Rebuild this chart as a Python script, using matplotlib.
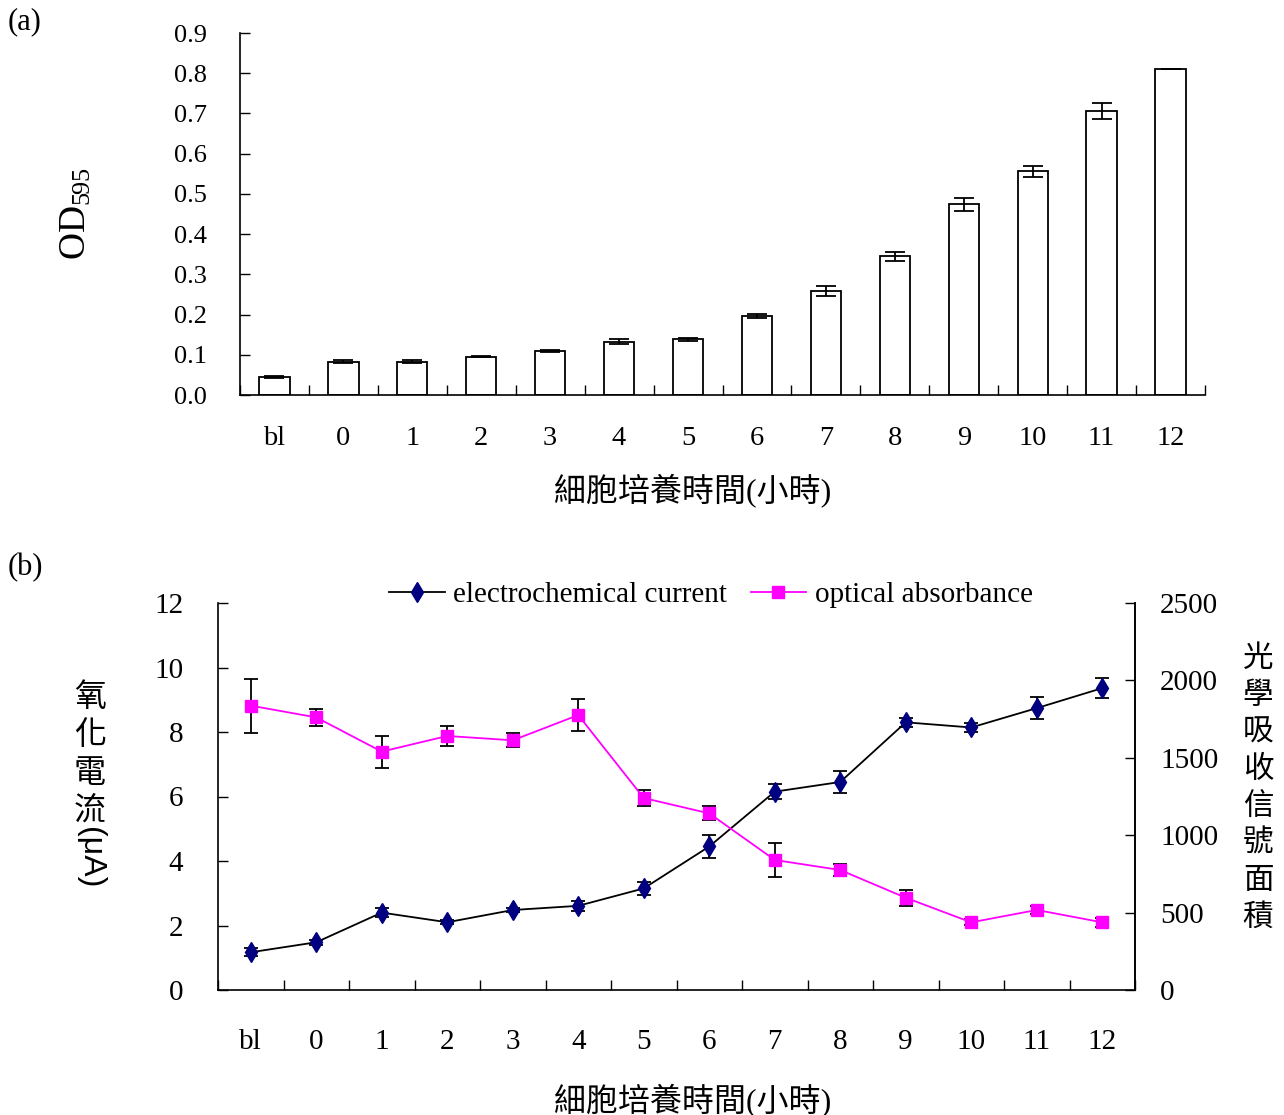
import numpy as np
import matplotlib.pyplot as plt
from matplotlib.lines import Line2D
from matplotlib.ticker import FormatStrFormatter

plt.rcParams['font.family'] = ['Liberation Serif', 'Noto Sans CJK TC']
plt.rcParams['mathtext.fontset'] = 'stix'

# data
cats = ['bl', '0', '1', '2', '3', '4', '5', '6', '7', '8', '9', '10', '11', '12']
od = [0.045, 0.083, 0.083, 0.095, 0.109, 0.133, 0.138, 0.196, 0.258, 0.345,
      0.474, 0.556, 0.706, 0.810]
od_err = [0.003, 0.003, 0.003, 0.001, 0.003, 0.005, 0.003, 0.005, 0.013, 0.011,
          0.017, 0.013, 0.019, 0.0]

cur = [1.17, 1.48, 2.40, 2.10, 2.48, 2.61, 3.15, 4.45, 6.15, 6.45,
       8.30, 8.14, 8.74, 9.36]
cur_err = [0.12, 0.07, 0.14, 0.06, 0.06, 0.15, 0.19, 0.37, 0.23, 0.35,
           0.13, 0.15, 0.35, 0.32]

absb = [1837, 1761, 1540, 1641, 1613, 1776, 1240, 1141, 840, 775,
        596, 437, 517, 437]
absb_err = [175, 54, 104, 65, 46, 105, 53, 46, 111, 41, 53, 20, 28, 30]

xlabel = '細胞培養時間(小時)'
W, H = 1284, 1115

fig = plt.figure(figsize=(W / 100, H / 100), dpi=100)
x = np.arange(len(cats))

# ---- panel (a)
ax1 = fig.add_axes([240 / W, 1 - 395 / H, 965 / W, 362 / H])
ax1.bar(x, od, width=0.44, color='white', edgecolor='black', linewidth=1.3,
        yerr=od_err, capsize=7,
        error_kw=dict(elinewidth=1.3, capthick=1.3, ecolor='black'))
ax1.set_xlim(-0.5, 13.5)
ax1.set_ylim(0, 0.9)
ax1.set_yticks(np.arange(0, 0.91, 0.1))
ax1.yaxis.set_major_formatter(FormatStrFormatter('%.1f'))
ax1.set_xticks(x)
ax1.set_xticklabels(cats)
ax1.set_xticks(np.arange(-0.5, 13.6, 1), minor=True)
ax1.tick_params(axis='x', which='major', length=0, pad=22, labelsize=20.5)
ax1.tick_params(axis='x', which='minor', direction='in', length=7, width=1)
ax1.tick_params(axis='y', direction='in', length=7, width=1, pad=24, labelsize=19)
for s in ['top', 'right']:
    ax1.spines[s].set_visible(False)
for s in ['left', 'bottom']:
    ax1.spines[s].set_linewidth(1.2)
ax1.set_ylabel(r'OD$\mathregular{_{595}}$', fontsize=27, labelpad=58)

fig.text(8 / W, 1 - 22 / H, '(a)', fontsize=22, ha='left', va='center')
fig.text(693 / W, 1 - 490 / H, xlabel, fontsize=23, ha='center', va='center')

# ---- panel (b)
ax = fig.add_axes([218 / W, 1 - 990 / H, 917 / W, 387 / H])
ax2 = ax.twinx()
ax.errorbar(x, cur, yerr=cur_err, color='black', lw=1.3, marker='d', ms=10,
            mfc='#000080', mec='#000080', ecolor='black', elinewidth=1.3,
            capsize=5, capthick=1.3, zorder=3)
ax2.errorbar(x, absb, yerr=absb_err, color='#ff00ff', lw=1.3, marker='s', ms=8.5,
             mfc='#ff00ff', mec='#ff00ff', ecolor='black', elinewidth=1.3,
             capsize=5, capthick=1.3)
ax.set_xlim(-0.5, 13.5)
ax.set_ylim(0, 12)
ax2.set_ylim(0, 2500)
ax.set_yticks(range(0, 13, 2))
ax2.set_yticks(range(0, 2501, 500))
ax.set_xticks(x)
ax.set_xticklabels(cats)
ax.set_xticks(np.arange(-0.5, 13.6, 1), minor=True)
ax.tick_params(axis='x', which='major', length=0, pad=28, labelsize=21)
ax.tick_params(axis='x', which='minor', direction='in', length=7, width=1)
ax.tick_params(axis='y', direction='in', length=7, width=1, pad=25, labelsize=21)
ax2.tick_params(axis='y', direction='in', length=7, width=1, pad=18, labelsize=21)
for a in (ax, ax2):
    a.spines['top'].set_visible(False)
    for s in ['left', 'bottom', 'right']:
        a.spines[s].set_linewidth(1.2)
ax2.spines['left'].set_visible(False)
ax2.spines['bottom'].set_visible(False)

handles = [
    Line2D([], [], color='black', lw=1.3, marker='d', ms=10,
           mfc='#000080', mec='#000080'),
    Line2D([], [], color='#ff00ff', lw=1.3, marker='s', ms=8,
           mfc='#ff00ff', mec='#ff00ff'),
]
fig.legend(handles, ['electrochemical current', 'optical absorbance'],
           loc='center', bbox_to_anchor=(711 / W, 1 - 595 / H), ncol=2,
           frameon=False, fontsize=21, handlelength=1.9, handletextpad=0.3,
           columnspacing=0.8, borderpad=0, borderaxespad=0)

fig.text(8 / W, 1 - 568 / H, '(b)', fontsize=22, ha='left', va='center')
fig.text(693 / W, 1 - 1100 / H, xlabel, fontsize=23, ha='center', va='center')

# vertical axis titles, characters stacked
for i, ch in enumerate('氧化電流'):
    fig.text(90 / W, 1 - (697 + 38 * i) / H, ch, fontsize=23,
             ha='center', va='center', family='Noto Sans CJK TC')
fig.text(90 / W, 1 - 858 / H, '(μA)', fontsize=23, rotation=-90,
         ha='center', va='center', family='Liberation Sans')
for i, ch in enumerate('光學吸收信號面積'):
    fig.text(1258 / W, 1 - (658 + 37.1 * i) / H, ch, fontsize=22,
             ha='center', va='center', family='Noto Sans CJK TC')

fig.savefig('out.png', dpi=100)
